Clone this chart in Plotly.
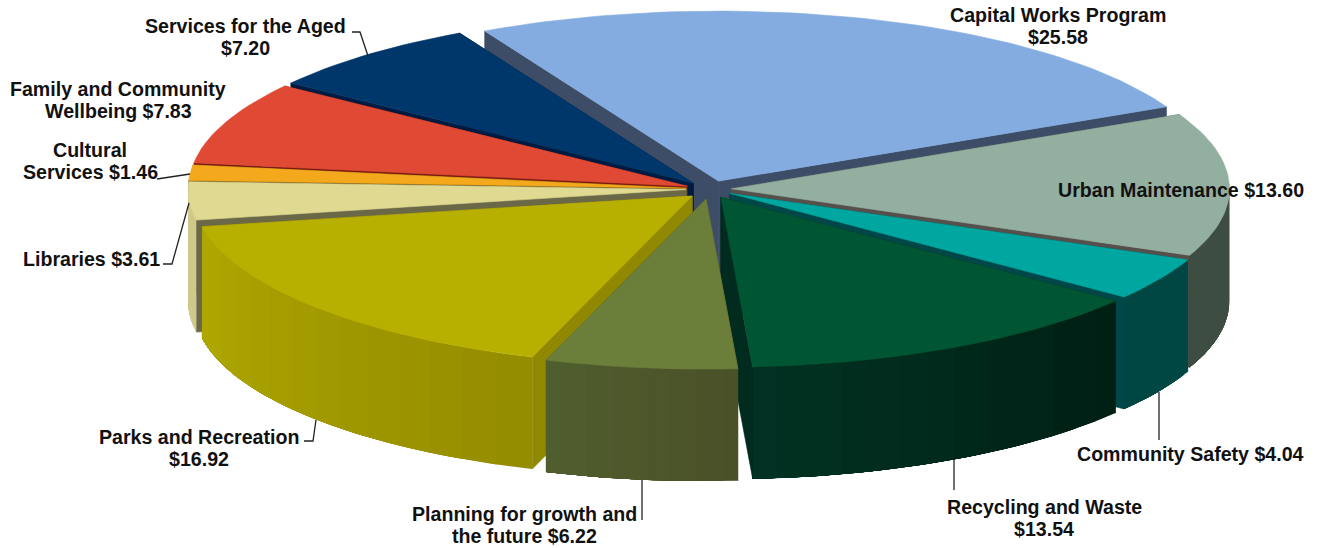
import math
import plotly.graph_objects as go

# Budget shares, in slice order running clockwise from the first slice
programs = ["Capital Works Program", "Urban Maintenance", "Community Safety",
            "Recycling and Waste", "Planning for growth and the future",
            "Parks and Recreation", "Libraries", "Cultural Services",
            "Family and Community Wellbeing", "Services for the Aged"]
amounts = [25.58, 13.60, 4.04, 13.54, 6.22, 16.92, 3.61, 1.46, 7.83, 7.20]

# Colours per slice: top face, cut face, outer wall (right end, left end)
top_colors = ["#85ACE0", "#93AFA0", "#00A7A0", "#005533", "#6B7E3A",
              "#B8B000", "#DFD992", "#F4A81C", "#E04A35", "#00376B"]
cut_colors = ["#3D4D68", "#55504C", "#00474A", "#002B1E", "#4A5028",
              "#8F8800", "#6B6848", "#6B5010", "#7A1A10", "#001A40"]
wall_colors = [("#3D4D68", "#3D4D68"), ("#3E4D42", "#3E4D42"), ("#004744", "#004744"),
               ("#001F14", "#013222"), ("#4A5028", "#505E2E"), ("#948C00", "#B0A800"),
               ("#CFC98A", "#CFC98A"), ("#6B5010", "#6B5010"), ("#7A1A10", "#7A1A10"),
               ("#001A40", "#001A40")]
explode = [0.055, 0.047, 0.05, 0.055, 0.06, 0.05, 0.044, 0.044, 0.045, 0.045]
# Small extra shift of a slice away from its exploded position, in pixels
nudge = [(2, 1), (0, 0), (0, 0), (0, 0), (2, 0), (3, 1.5), (0, 0), (0, 0), (0, 0), (0, 0)]

# Projection of the tilted disc onto the page, in pixels
CX, CY, RX, RY, DEPTH = 708, 189, 498, 170, 112
START_ANGLE = -28
PAINT_ORDER = [0, 9, 8, 7, 6, 1, 2, 5, 3, 4]
WALL_STEPS = 14
LINE_GAP = 22


def hex_mix(a, b, t):
    ca = [int(a[i:i + 2], 16) for i in (1, 3, 5)]
    cb = [int(b[i:i + 2], 16) for i in (1, 3, 5)]
    return "#" + "".join(f"{round(x + (y - x) * t):02X}" for x, y in zip(ca, cb))


def rim(tip, deg):
    r = math.radians(deg)
    return tip[0] + RX * math.sin(r), tip[1] - RY * math.cos(r)


def polygon(points, color, edge=0.6):
    xs = [p[0] for p in points] + [points[0][0]]
    ys = [p[1] for p in points] + [points[0][1]]
    return go.Scatter(x=xs, y=ys, mode="lines", fill="toself", fillcolor=color,
                      line=dict(color=color, width=edge), hoverinfo="skip", showlegend=False)


fig = go.Figure()

total = sum(amounts)
edges = [START_ANGLE]
for v in amounts:
    edges.append(edges[-1] + v / total * 360)

for i in PAINT_ORDER:
    a0, a1 = edges[i], edges[i + 1]
    mid = math.radians((a0 + a1) / 2)
    tip = (CX + explode[i] * RX * math.sin(mid) + nudge[i][0],
           CY - explode[i] * RY * math.cos(mid) + nudge[i][1])

    # Cut faces, each hanging below a straight edge of the slice
    for deg in (a0, a1):
        p = rim(tip, deg)
        fig.add_trace(polygon([tip, p, (p[0], p[1] + DEPTH), (tip[0], tip[1] + DEPTH)], cut_colors[i]))

    # Outer wall on the near half of the rim; each strip runs on to the far end
    # so the next strip paints over it and no seams show
    lo, hi = max(a0, 90), min(a1, 270)
    if hi > lo:
        for s in range(WALL_STEPS):
            d0 = lo + (hi - lo) * s / WALL_STEPS
            n = max(2, int((hi - d0) / 1.5))
            arc = [rim(tip, d0 + (hi - d0) * k / n) for k in range(n + 1)]
            strip = arc + [(x, y + DEPTH) for x, y in reversed(arc)]
            fig.add_trace(polygon(strip, hex_mix(*wall_colors[i], (s + 0.5) / WALL_STEPS), edge=0))

    # Top face
    n = max(4, int((a1 - a0) / 1.5))
    fig.add_trace(polygon([tip] + [rim(tip, a0 + (a1 - a0) * k / n) for k in range(n + 1)], top_colors[i]))

# Leader lines from labels to their slices
leaders = [
    ([352, 360, 368], [32, 32, 56]),
    ([157, 190], [179, 174]),
    ([163, 172, 189], [264, 264, 203]),
    ([304, 313, 316], [441, 441, 420]),
    ([642, 642], [480, 520]),
    ([954, 954], [459, 490]),
    ([1159, 1159], [392, 440]),
]
for lx, ly in leaders:
    fig.add_trace(go.Scatter(x=lx, y=ly, mode="lines", line=dict(color="#222222", width=1.3),
                             hoverinfo="skip", showlegend=False))

money = [f"${v:.2f}" for v in amounts]
label_lines = [
    ["Capital Works Program", money[0]],
    [f"Urban Maintenance {money[1]}"],
    [f"Community Safety {money[2]}"],
    ["Recycling and Waste", money[3]],
    ["Planning for growth and", f"the future {money[4]}"],
    ["Parks and Recreation", money[5]],
    [f"Libraries {money[6]}"],
    ["Cultural", f"Services {money[7]}"],
    ["Family and Community", f"Wellbeing {money[8]}"],
    ["Services for the Aged", money[9]],
]
label_xy = [(1058, 26), (1181, 190), (1190, 454), (1044, 518), (524, 525),
            (199, 448), (91, 259), (90, 161), (118, 100), (245, 37)]
for lines, (x, y) in zip(label_lines, label_xy):
    for k, line in enumerate(lines):
        fig.add_annotation(x=x, y=y + (k - (len(lines) - 1) / 2) * LINE_GAP, text=f"<b>{line}</b>",
                           showarrow=False, xanchor="center", yanchor="middle",
                           font=dict(family="Liberation Sans", size=19.6, color="#111111"))

fig.update_layout(
    width=1322, height=548, margin=dict(l=0, r=0, t=0, b=0),
    paper_bgcolor="white", plot_bgcolor="white", showlegend=False,
    xaxis=dict(range=[0, 1322], visible=False, fixedrange=True),
    yaxis=dict(range=[548, 0], visible=False, fixedrange=True),
)
fig.write_html("out.html", config={"displayModeBar": False})
